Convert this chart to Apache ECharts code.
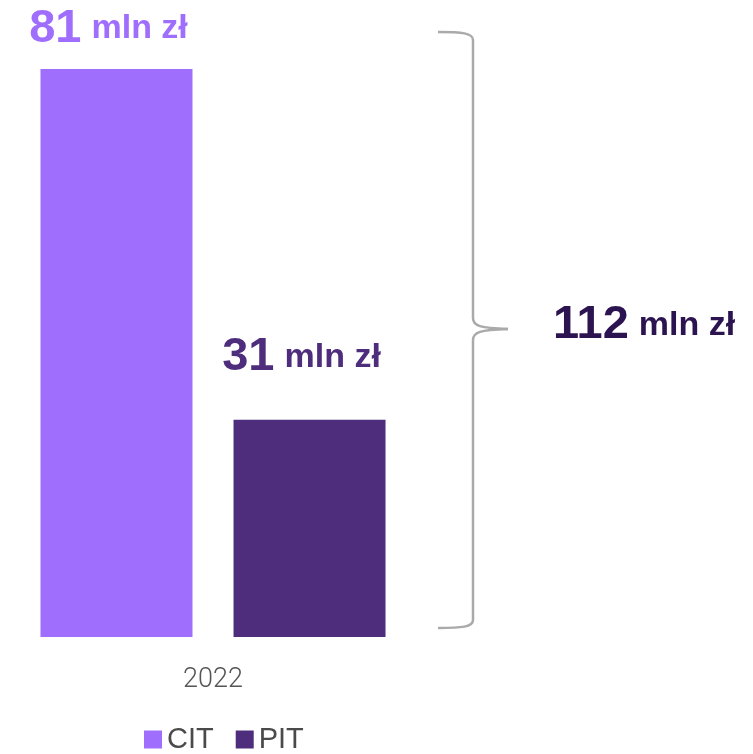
<!DOCTYPE html>
<html><head><meta charset="utf-8">
<script src="https://cdn.jsdelivr.net/npm/echarts@6/dist/echarts.min.js"></script>
<style>html,body{margin:0;padding:0;background:#fff}#c{width:753px;height:754px}</style>
</head><body><div id="c"></div>
<script>
const categories = ['2022'];
const seriesNames = ['CIT', 'PIT'];
const citValues = [81];
const pitValues = [31];
const totalLabel = '112';
const unit = 'mln zł';
const colors = ['#a06efd', '#4e2d7c'];

const chart = echarts.init(document.getElementById('c'));
const font = '"Liberation Sans", Arial, sans-serif';
function rich(color, key) {
  return {
    n: {fontFamily: font, fontWeight: 'bold', fontSize: 47, [key]: color},
    u: {fontFamily: font, fontWeight: 'bold', fontSize: 34, [key]: color, padding: [0, 0, 0, 10]}
  };
}
const br = {fill: 'none', stroke: '#aaaaaa', lineWidth: 2.5};
function curve(x1, y1, cx1, cy1, cx2, cy2, x2, y2) {
  return {type: 'bezierCurve', shape: {x1, y1, cpx1: cx1, cpy1: cy1, cpx2: cx2, cpy2: cy2, x2, y2}, style: br};
}
function seg(x1, y1, x2, y2) {
  return {type: 'line', shape: {x1, y1, x2, y2}, style: br};
}
chart.setOption({
  animation: false,
  grid: {left: 0, right: 327, top: 6, bottom: 117},
  xAxis: {
    type: 'category', data: categories,
    axisLine: {show: false}, axisTick: {show: false},
    axisLabel: {fontFamily: 'Roboto', fontWeight: 300, fontSize: 27, color: '#555', margin: 30}
  },
  yAxis: {type: 'value', min: 0, max: 90, show: false},
  legend: {
    bottom: -5, left: 139, itemWidth: 18, itemHeight: 18, itemGap: 22,
    icon: 'rect',
    textStyle: {fontFamily: font, fontSize: 29, color: '#4a4a4a'}
  },
  series: [
    {
      name: seriesNames[0], type: 'bar', barWidth: 152, barGap: '27%',
      itemStyle: {color: colors[0]},
      data: citValues.map(v => ({value: v})),
      label: {
        show: true, position: 'top', distance: 17, offset: [-8, 0],
        formatter: p => '{n|' + p.value + '}{u|' + unit + '}',
        rich: rich(colors[0], 'color')
      }
    },
    {
      name: seriesNames[1], type: 'bar', barWidth: 152,
      itemStyle: {color: colors[1]},
      data: pitValues.map(v => ({value: v})),
      label: {
        show: true, position: 'top', distance: 39, offset: [-8, 0],
        formatter: p => '{n|' + p.value + '}{u|' + unit + '}',
        rich: rich(colors[1], 'color')
      }
    }
  ],
  graphic: [
    curve(438, 32, 462, 32, 473, 33, 473, 40),
    seg(473, 40, 473, 318),
    curve(473, 318, 473, 326, 480, 328, 508, 329),
    curve(508, 329, 480, 330, 473, 332, 473, 340),
    seg(473, 340, 473, 620),
    curve(473, 620, 473, 627, 462, 628, 438, 628),
    {
      type: 'text', left: 553, top: 302,
      style: {
        text: '{n|' + totalLabel + '}{u|' + unit + '}',
        rich: rich('#2c1450', 'fill')
      }
    }
  ]
});
</script></body></html>
